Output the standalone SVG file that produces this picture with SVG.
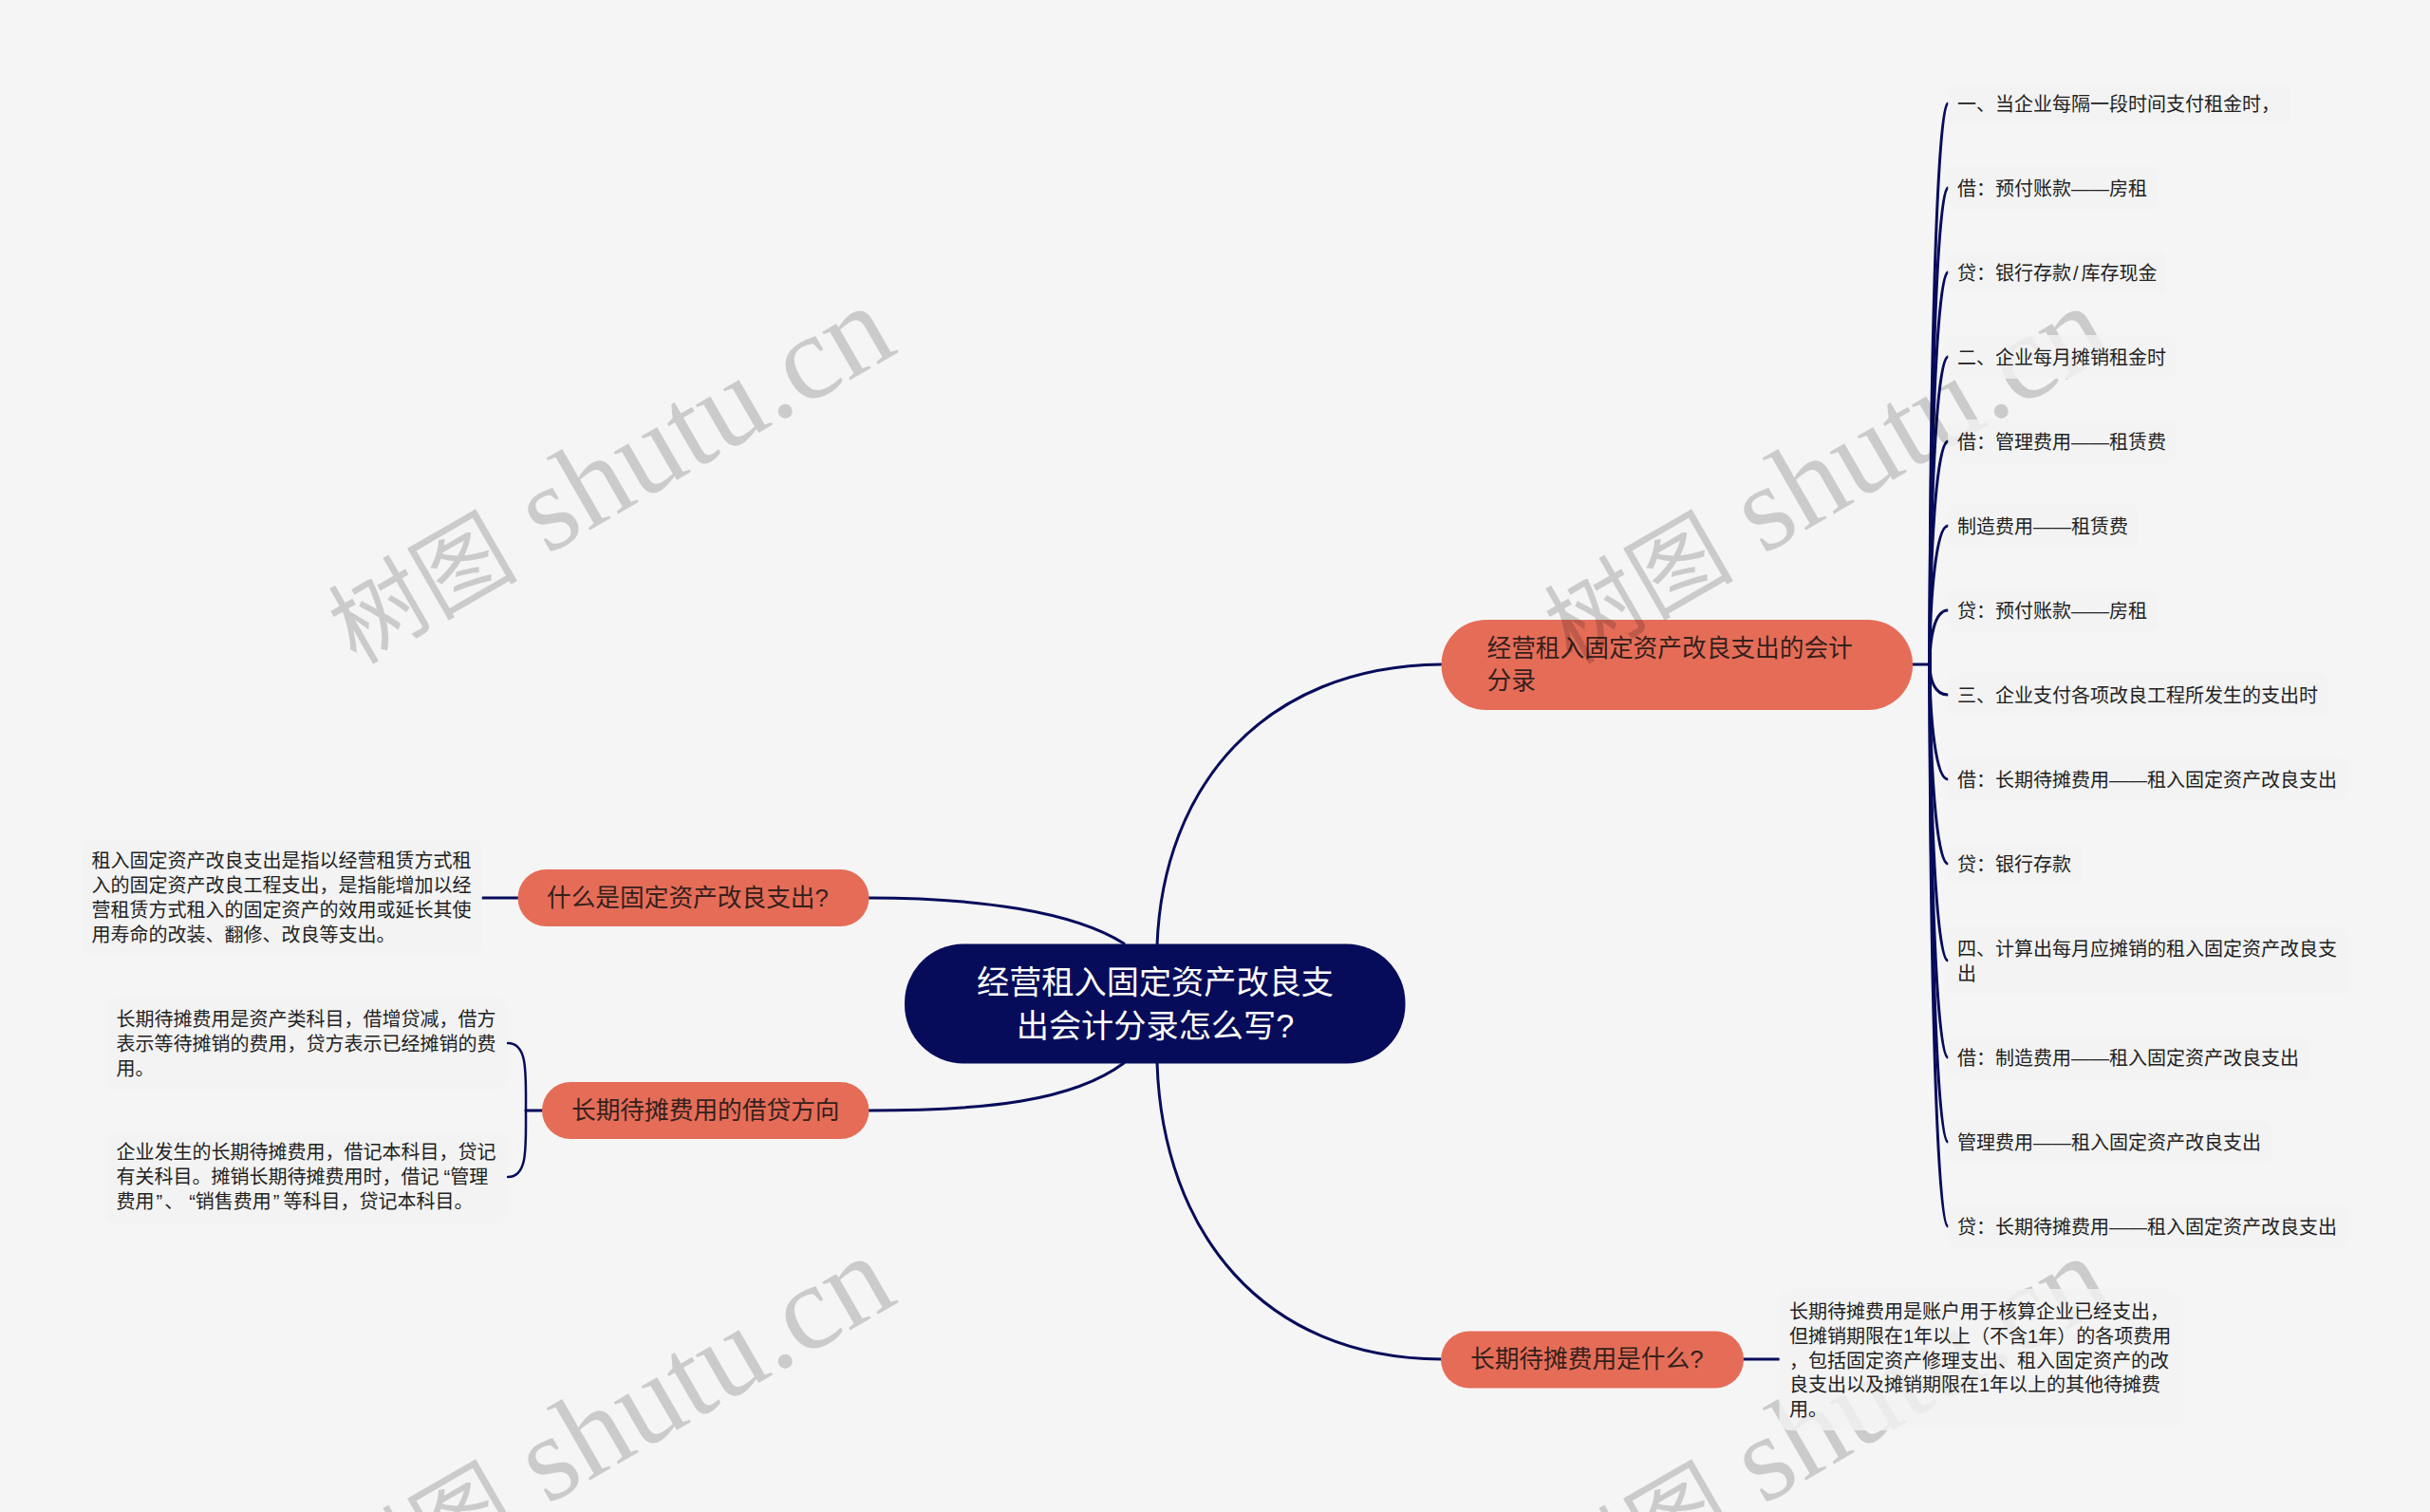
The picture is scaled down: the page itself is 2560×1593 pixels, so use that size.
<svg xmlns="http://www.w3.org/2000/svg" width="2560" height="1593" viewBox="0 0 2560 1593">
<style>
text{font-family:"Liberation Sans","Noto Sans CJK SC",sans-serif}
.c{fill:none;stroke:#060c5a;stroke-width:3;stroke-linecap:round}
.b rect{fill:#e56d58}
.b text{font-size:25.7px;fill:#35201c}
.l rect{fill:#f2f2f2;fill-opacity:.8}
.l text{font-size:20px;fill:#222}
.w text{font-family:"Liberation Serif","Noto Sans CJK SC",serif;font-size:128px;fill:#000;fill-opacity:.17}
.w tspan{font-size:100px}
</style>
<rect width="2560" height="1593" fill="#f5f5f5"/>
<g id="connectors">
<path class="c" d="M1219 996C1225 830 1330 702 1518 700"/>
<path class="c" d="M1219 1120C1225 1298 1330 1431 1518 1432"/>
<path class="c" d="M915 946C1030 946 1130 960 1184 994"/>
<path class="c" d="M915 1170C1040 1170 1130 1160 1184 1120"/>
<path class="c" d="M546 946H508"/>
<path class="c" d="M1837 1432H1874"/>
<path class="c" d="M2015 700H2033"/>
<path class="c" d="M571 1170H554"/>
<path class="c" style="stroke-width:2.5" d="M554 1170C554 1130 556 1099 535 1099"/>
<path class="c" style="stroke-width:2.5" d="M554 1170C554 1210 556 1240 535 1240"/>
<g>
<path class="c" d="M2033 700C2033 405 2040 115 2052 109"/>
<path class="c" d="M2033 700C2033 450 2040 203 2052 198"/>
<path class="c" d="M2033 700C2033 494 2040 291 2052 287"/>
<path class="c" d="M2033 700C2033 538 2040 379 2052 376"/>
<path class="c" d="M2033 700C2033 583 2040 467 2052 465"/>
<path class="c" d="M2033 700C2033 627 2040 555 2052 554"/>
<path class="c" d="M2033 700C2033 672 2038 643 2052 643"/>
<path class="c" d="M2033 700C2033 716 2038 732 2052 732"/>
<path class="c" d="M2033 700C2033 761 2040 821 2052 821"/>
<path class="c" d="M2033 700C2033 805 2040 909 2052 910"/>
<path class="c" d="M2033 700C2033 850 2040 1011 2052 1012"/>
<path class="c" d="M2033 700C2033 907 2040 1112 2052 1114"/>
<path class="c" d="M2033 700C2033 951 2040 1201 2052 1203"/>
<path class="c" d="M2033 700C2033 996 2040 1290 2052 1292"/>
</g>
</g>
<g id="root"><rect x="953" y="994.5" width="527.5" height="126" rx="62" fill="#060c5a"/>
<text x="1217" y="1047" text-anchor="middle" font-size="34.2" fill="#fff">经营租入固定资产改良支</text>
<text x="1217" y="1093" text-anchor="middle" font-size="34.2" fill="#fff">出会计分录怎么写?</text></g>
<g id="b1" class="b"><rect x="1518.5" y="653" width="496.5" height="95" rx="47"/>
<text x="1566.5" y="692">经营租入固定资产改良支出的会计</text><text x="1566.5" y="726">分录</text></g>
<g id="b2" class="b"><rect x="545.5" y="916" width="370" height="60" rx="30"/><text x="576" y="955">什么是固定资产改良支出?</text></g>
<g id="b3" class="b"><rect x="571" y="1140" width="344.5" height="60" rx="30"/><text x="602" y="1179">长期待摊费用的借贷方向</text></g>
<g id="b4" class="b"><rect x="1518" y="1402.5" width="319" height="60" rx="30"/><text x="1549" y="1441">长期待摊费用是什么?</text></g>
<g class="w">
<text transform="translate(375 701) rotate(-30)"><tspan>树图</tspan> shutu.cn</text>
<text transform="translate(1656 701) rotate(-30)"><tspan>树图</tspan> shutu.cn</text>
<text transform="translate(375 1702) rotate(-30)"><tspan>树图</tspan> shutu.cn</text>
<text transform="translate(1656 1702) rotate(-30)"><tspan>树图</tspan> shutu.cn</text>
</g>
<g id="l1" class="l"><rect x="86" y="884" width="422" height="123" rx="10"/>
<text x="96.5" y="914">租入固定资产改良支出是指以经营租赁方式租</text><text x="96.5" y="940">入的固定资产改良工程支出，是指能增加以经</text><text x="96.5" y="966">营租赁方式租入的固定资产的效用或延长其使</text><text x="96.5" y="992">用寿命的改装、翻修、改良等支出。</text></g>
<g id="l2" class="l"><rect x="113" y="1051" width="421" height="97" rx="10"/>
<text x="122.5" y="1081">长期待摊费用是资产类科目，借增贷减，借方</text><text x="122.5" y="1107">表示等待摊销的费用，贷方表示已经摊销的费</text><text x="122.5" y="1133">用。</text></g>
<g id="l3" class="l"><rect x="113" y="1191" width="421" height="98" rx="10"/>
<text x="122.5" y="1221">企业发生的长期待摊费用，借记本科目，贷记</text><text x="122.5" y="1247">有关科目。摊销长期待摊费用时，借记<tspan dx="5">“管理</tspan></text><text x="122.5" y="1273">费用<tspan dx="2">”</tspan><tspan dx="2">、</tspan><tspan dx="6">“销售费用</tspan><tspan dx="2">”</tspan><tspan dx="4">等科目，贷记本科目。</tspan></text></g>
<g id="l4" class="l"><rect x="1874.5" y="1358" width="421" height="149" rx="10"/>
<text x="1885" y="1389">长期待摊费用是账户用于核算企业已经支出，</text><text x="1885" y="1415">但摊销期限在1年以上（不含1年）的各项费用</text><text x="1885" y="1441">，包括固定资产修理支出、租入固定资产的改</text><text x="1885" y="1466">良支出以及摊销期限在1年以上的其他待摊费</text><text x="1885" y="1492">用。</text></g>
<g id="r1" class="l"><rect x="2052" y="86" width="361" height="46" rx="10"/><text x="2062" y="117">一、当企业每隔一段时间支付租金时，</text></g>
<g id="r2" class="l"><rect x="2052" y="175" width="221" height="46" rx="10"/><text x="2062" y="206">借：预付账款——房租</text></g>
<g id="r3" class="l"><rect x="2052" y="264" width="230" height="46" rx="10"/><text x="2062" y="295">贷：银行存款<tspan dx="2">/</tspan><tspan dx="3">库存现金</tspan></text></g>
<g id="r4" class="l"><rect x="2052" y="353" width="241" height="46" rx="10"/><text x="2062" y="384">二、企业每月摊销租金时</text></g>
<g id="r5" class="l"><rect x="2052" y="442" width="241" height="46" rx="10"/><text x="2062" y="473">借：管理费用——租赁费</text></g>
<g id="r6" class="l"><rect x="2052" y="531" width="201" height="46" rx="10"/><text x="2062" y="562">制造费用——租赁费</text></g>
<g id="r7" class="l"><rect x="2052" y="620" width="221" height="46" rx="10"/><text x="2062" y="651">贷：预付账款——房租</text></g>
<g id="r8" class="l"><rect x="2052" y="709" width="401" height="46" rx="10"/><text x="2062" y="740">三、企业支付各项改良工程所发生的支出时</text></g>
<g id="r9" class="l"><rect x="2052" y="798" width="421" height="46" rx="10"/><text x="2062" y="829">借：长期待摊费用——租入固定资产改良支出</text></g>
<g id="r10" class="l"><rect x="2052" y="887" width="141" height="46" rx="10"/><text x="2062" y="918">贷：银行存款</text></g>
<g id="r11" class="l"><rect x="2052" y="976" width="421" height="71" rx="10"/><text x="2062" y="1007">四、计算出每月应摊销的租入固定资产改良支</text><text x="2062" y="1033">出</text></g>
<g id="r12" class="l"><rect x="2052" y="1091" width="381" height="46" rx="10"/><text x="2062" y="1122">借：制造费用——租入固定资产改良支出</text></g>
<g id="r13" class="l"><rect x="2052" y="1180" width="341" height="46" rx="10"/><text x="2062" y="1211">管理费用——租入固定资产改良支出</text></g>
<g id="r14" class="l"><rect x="2052" y="1269" width="421" height="46" rx="10"/><text x="2062" y="1300">贷：长期待摊费用——租入固定资产改良支出</text></g>
</svg>
